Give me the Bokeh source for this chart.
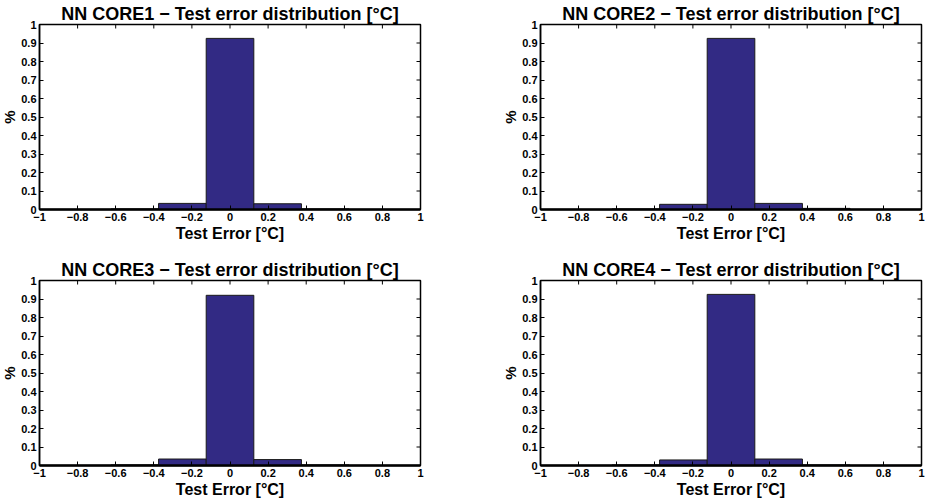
import math
from bokeh.plotting import figure
from bokeh.layouts import column, row
from bokeh.models import FixedTicker, Range1d
from bokeh.embed import file_html
from bokeh.resources import INLINE

# ---- data -------------------------------------------------------------
bin_centers = [-1.0, -0.75, -0.5, -0.25, 0.0, 0.25, 0.5, 0.75, 1.0]
core1 = [0.0, 0.0, 0.003, 0.033, 0.925, 0.031, 0.003, 0.0, 0.0]
core2 = [0.0, 0.0, 0.003, 0.028, 0.925, 0.033, 0.006, 0.0, 0.0]
core3 = [0.0, 0.0, 0.003, 0.035, 0.920, 0.032, 0.003, 0.0, 0.0]
core4 = [0.0, 0.0, 0.003, 0.030, 0.925, 0.035, 0.003, 0.0, 0.0]
titles = ["NN CORE1 \u2212 Test error distribution [\u00b0C]",
          "NN CORE2 \u2212 Test error distribution [\u00b0C]",
          "NN CORE3 \u2212 Test error distribution [\u00b0C]",
          "NN CORE4 \u2212 Test error distribution [\u00b0C]"]
x_ticks = [-1.0, -0.8, -0.6, -0.4, -0.2, 0.0, 0.2, 0.4, 0.6, 0.8, 1.0]
x_tick_labels = ["\u22121", "\u22120.8", "\u22120.6", "\u22120.4", "\u22120.2", "0",
                 "0.2", "0.4", "0.6", "0.8", "1"]
y_ticks = [0.0, 0.1, 0.2, 0.3, 0.4, 0.5, 0.6, 0.7, 0.8, 0.9, 1.0]
y_tick_labels = ["0", "0.1", "0.2", "0.3", "0.4", "0.5", "0.6", "0.7", "0.8", "0.9", "1"]
x_min, x_max = -1.0, 1.0
y_min, y_max = 0.0, 1.0
bin_width = 0.25
x_label = "Test Error [\u00b0C]"
y_label = "%"

FONT = "Liberation Sans"
BAR = "#322a84"


def make(title, values, bl, br, bt, bb):
    p = figure(frame_width=381, frame_height=185, output_backend="svg",
               toolbar_location=None, tools="",
               x_range=Range1d(x_min, x_max), y_range=Range1d(y_min, y_max),
               min_border_left=bl, min_border_right=br,
               min_border_top=bt, min_border_bottom=bb)
    p.vbar(x=bin_centers, top=values, width=bin_width, bottom=0,
           fill_color=BAR, line_color="#1a1a1a", line_width=1)
    # inward ticks on the top and right edges of the box
    p.ray(x=x_ticks, y=[y_max] * len(x_ticks), length=4, length_units="screen",
          angle=-math.pi / 2, line_color="black", line_width=1)
    p.ray(x=[x_max] * len(y_ticks), y=y_ticks, length=4, length_units="screen",
          angle=math.pi, line_color="black", line_width=1)

    p.title.text = title
    p.title.align = "center"
    p.title.text_font = FONT
    p.title.text_font_size = "18px"
    p.title.text_font_style = "bold"
    p.title.text_color = "black"
    p.title.standoff = 2
    p.grid.visible = False
    p.outline_line_color = "black"
    p.outline_line_width = 1.5
    p.background_fill_color = "white"
    p.border_fill_color = "white"

    xa = p.xaxis[0]
    xa.ticker = FixedTicker(ticks=x_ticks)
    xa.major_label_overrides = {t: l for t, l in zip(x_ticks, x_tick_labels)}
    xa.axis_label = x_label
    ya = p.yaxis[0]
    ya.ticker = FixedTicker(ticks=y_ticks)
    ya.major_label_overrides = {t: l for t, l in zip(y_ticks, y_tick_labels)}
    ya.axis_label = y_label
    for ax in (xa, ya):
        ax.major_tick_in = 4
        ax.major_tick_out = 0
        ax.minor_tick_line_color = None
        ax.axis_line_color = "black"
        ax.axis_line_width = 1.5
        ax.major_tick_line_color = "black"
        ax.major_label_text_font = FONT
        ax.major_label_text_font_size = "11px"
        ax.major_label_text_font_style = "bold"
        ax.major_label_text_color = "black"
        ax.axis_label_text_font = FONT
        ax.axis_label_text_font_style = "bold"
        ax.axis_label_text_color = "black"
        ax.major_label_standoff = 3
    xa.axis_line_width = 2.5
    xa.axis_label_text_font_size = "16px"
    xa.axis_label_standoff = 1
    ya.axis_label_text_font_size = "15px"
    ya.axis_label_standoff = 0
    return p


p1 = make(titles[0], core1, 39, 40, 27, 38)
p2 = make(titles[1], core2, 80, 5, 27, 38)
p3 = make(titles[2], core3, 39, 40, 33, 30)
p4 = make(titles[3], core4, 80, 5, 33, 30)

layout = column(row(p1, p2), row(p3, p4), margin=(-3, 0, 0, -2))

with open("out.html", "w") as f:
    f.write(file_html(layout, INLINE))
